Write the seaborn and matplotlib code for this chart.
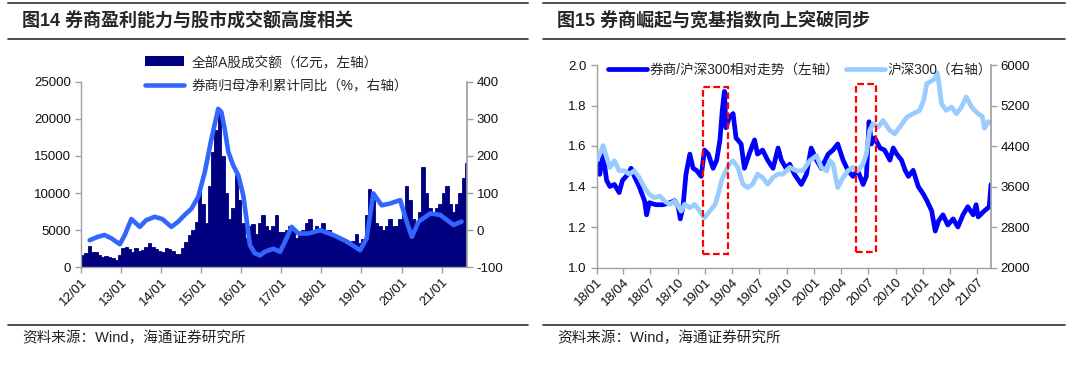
import pandas as pd
import seaborn as sns
import matplotlib.pyplot as plt
import matplotlib.dates as mdates
from matplotlib.lines import Line2D
from matplotlib.patches import Patch, Rectangle

# ---------------- 图14: turnover vs broker profit ----------------
# monthly A-share turnover (亿元), Jan 2012 .. Aug 2021
turnover_2012 = [1650, 1900, 2900, 2100, 2000, 1600, 1400, 1500, 1400, 1300, 1000, 1700]
turnover_2013 = [2600, 2700, 2500, 2000, 2600, 2200, 2300, 2800, 3300, 2700, 2500, 2200]
turnover_2014 = [2000, 2600, 2400, 2200, 1800, 1800, 2600, 3400, 4300, 5000, 6100, 10500]
turnover_2015 = [8500, 6000, 11000, 15500, 18500, 21000, 15000, 10000, 6500, 8000, 12500, 9000]
turnover_2016 = [6000, 4000, 5500, 5800, 4500, 6000, 7000, 5500, 5000, 5500, 7000, 4700]
turnover_2017 = [4800, 5000, 5500, 5000, 4000, 4500, 5000, 6000, 6500, 5000, 5500, 4800]
turnover_2018 = [6000, 5000, 5000, 4300, 4000, 3800, 3500, 3200, 3200, 3500, 4500, 3300]
turnover_2019 = [3800, 7000, 10500, 9000, 6000, 5500, 5000, 5500, 6500, 5500, 5500, 6500]
turnover_2020 = [7500, 11000, 9000, 6500, 6000, 7500, 13500, 10000, 8000, 7000, 8000, 8500]
turnover_2021 = [10000, 11000, 8500, 7500, 8500, 10000, 12000, 14000]
turnover = (turnover_2012 + turnover_2013 + turnover_2014 + turnover_2015 + turnover_2016
            + turnover_2017 + turnover_2018 + turnover_2019 + turnover_2020 + turnover_2021)
turnover_months = pd.date_range("2012-01-01", periods=len(turnover), freq="MS")

# broker net profit, cumulative YoY (%)
profit_dates = ["2012-03-20", "2012-06-01", "2012-08-03", "2012-10-04", "2012-12-20",
                "2013-02-03", "2013-04-04", "2013-06-20", "2013-08-17", "2013-11-03",
                "2014-01-11", "2014-04-04", "2014-06-05", "2014-08-03", "2014-10-04", "2014-12-05",
                "2015-02-03", "2015-04-04", "2015-06-05", "2015-07-04", "2015-08-03", "2015-09-05",
                "2015-10-19", "2015-12-05",
                "2016-01-19", "2016-02-17", "2016-03-20", "2016-05-03", "2016-06-20", "2016-08-03",
                "2016-10-19", "2016-12-20",
                "2017-02-03", "2017-04-04", "2017-06-05", "2017-09-05", "2017-12-20",
                "2018-04-19", "2018-08-17", "2018-12-20",
                "2019-02-17", "2019-04-19", "2019-07-04", "2019-09-20", "2019-12-20",
                "2020-02-17", "2020-04-04", "2020-06-05", "2020-09-20", "2020-12-20",
                "2021-03-01", "2021-04-20", "2021-07-01"]
profit_yoy = [-27, -18, -13, -22, -38,
              -13, 30, 9, 27, 36,
              30, 9, 23, 41, 58, 90,
              157, 246, 327, 318, 273, 211, 175, 148,
              94, 32, -40, -62, -68, -58, -50, -58,
              -31, 9, -9, -9, 0,
              -13, -30, -54,
              -22, 99, 67, 72, 81,
              23, -18, 23, 45, 41,
              25, 14, 23]

# ---------------- 图15: broker / HS300 ----------------
rel_dates = ["2018-01-01", "2018-01-12", "2018-01-23", "2018-02-04", "2018-02-15", "2018-03-02",
             "2018-03-18", "2018-03-29", "2018-04-16", "2018-04-27", "2018-05-08", "2018-05-24",
             "2018-06-11", "2018-06-18", "2018-06-27", "2018-07-19", "2018-08-12", "2018-09-04",
             "2018-09-20", "2018-10-02", "2018-10-09", "2018-10-18", "2018-10-28", "2018-11-10",
             "2018-11-21", "2018-12-02", "2018-12-18", "2018-12-29", "2019-01-11", "2019-01-27",
             "2019-02-08", "2019-02-19", "2019-02-27", "2019-03-06", "2019-03-11", "2019-03-22",
             "2019-04-04", "2019-04-14", "2019-05-01", "2019-05-12", "2019-05-28", "2019-06-15",
             "2019-06-25", "2019-07-12", "2019-07-29", "2019-08-16", "2019-09-02", "2019-09-13",
             "2019-09-29", "2019-10-11", "2019-10-27", "2019-11-19", "2019-12-06", "2019-12-22",
             "2020-01-09", "2020-01-25", "2020-02-17", "2020-03-04", "2020-03-20", "2020-04-07",
             "2020-04-23", "2020-05-10", "2020-05-26", "2020-06-13", "2020-06-24", "2020-07-03",
             "2020-07-11", "2020-07-22", "2020-08-09", "2020-08-24", "2020-09-11", "2020-09-22",
             "2020-10-04", "2020-10-20", "2020-11-01", "2020-11-12", "2020-11-28", "2020-12-15",
             "2021-01-02", "2021-01-13", "2021-01-29", "2021-02-10", "2021-02-21", "2021-03-08",
             "2021-03-24", "2021-04-11", "2021-04-27", "2021-05-14", "2021-05-30", "2021-06-17",
             "2021-06-27", "2021-07-04", "2021-07-25", "2021-08-10", "2021-08-16"]
rel_values = [1.53, 1.46, 1.56, 1.43, 1.40, 1.41,
              1.37, 1.43, 1.46, 1.49, 1.45, 1.40,
              1.33, 1.26, 1.32, 1.31, 1.31, 1.32,
              1.33, 1.30, 1.24, 1.30, 1.46, 1.56,
              1.49, 1.48, 1.45, 1.58, 1.56, 1.49,
              1.53, 1.63, 1.78, 1.87, 1.69, 1.74,
              1.76, 1.64, 1.61, 1.49, 1.56, 1.63,
              1.56, 1.58, 1.53, 1.49, 1.59, 1.53,
              1.49, 1.51, 1.46, 1.41, 1.46, 1.59,
              1.53, 1.49, 1.56, 1.58, 1.61, 1.53,
              1.48, 1.45, 1.48, 1.41, 1.45, 1.72,
              1.61, 1.64, 1.59, 1.58, 1.53, 1.59,
              1.56, 1.53, 1.48, 1.45, 1.48, 1.40,
              1.36, 1.33, 1.28, 1.18, 1.23, 1.26,
              1.21, 1.24, 1.20, 1.26, 1.30, 1.26,
              1.31, 1.25, 1.28, 1.30, 1.41]

hs300_dates = ["2018-01-01", "2018-01-12", "2018-01-23", "2018-02-04", "2018-02-15", "2018-03-02",
               "2018-03-18", "2018-04-05", "2018-04-21", "2018-05-08", "2018-05-24", "2018-06-11",
               "2018-06-27", "2018-07-14", "2018-08-01", "2018-08-17", "2018-09-04", "2018-09-20",
               "2018-10-02", "2018-10-12", "2018-10-23", "2018-11-10", "2018-11-26", "2018-12-13",
               "2018-12-29", "2019-01-16", "2019-02-03", "2019-02-13", "2019-02-24", "2019-03-06",
               "2019-03-22", "2019-04-04", "2019-04-20", "2019-05-07", "2019-05-23", "2019-06-09",
               "2019-06-25", "2019-07-12", "2019-07-29", "2019-08-16", "2019-09-02", "2019-09-18",
               "2019-10-11", "2019-11-03", "2019-11-24", "2019-12-17", "2020-01-09", "2020-01-25",
               "2020-02-12", "2020-02-22", "2020-03-04", "2020-03-20", "2020-04-07", "2020-04-23",
               "2020-05-10", "2020-05-26", "2020-06-13", "2020-06-24", "2020-07-05", "2020-07-16",
               "2020-08-03", "2020-08-19", "2020-09-11", "2020-09-27", "2020-10-14", "2020-11-07",
               "2020-11-28", "2020-12-20", "2021-01-02", "2021-01-13", "2021-01-24", "2021-02-10",
               "2021-02-16", "2021-02-21", "2021-03-03", "2021-03-19", "2021-04-06", "2021-04-22",
               "2021-05-09", "2021-05-25", "2021-06-12", "2021-06-22", "2021-07-04", "2021-07-18",
               "2021-07-25", "2021-08-07", "2021-08-16"]
hs300_values = [4109, 4242, 4408, 4176, 3977, 4109,
                3910, 3910, 3844, 3910, 3778, 3579,
                3446, 3380, 3413, 3313, 3247, 3313,
                3214, 3114, 3247, 3180, 3247, 3114,
                2981, 3114, 3247, 3446, 3711, 3844,
                4043, 4109, 3977, 3645, 3579, 3645,
                3844, 3778, 3645, 3778, 3844, 3844,
                3977, 3910, 3910, 4109, 4209, 3977,
                3910, 4109, 4043, 3579, 3778, 3910,
                3977, 3910, 4043, 4242, 4706, 4839,
                4772, 4905, 4706, 4640, 4772, 4971,
                5038, 5104, 5303, 5635, 5668, 5734,
                5850, 5701, 5237, 5104, 5170, 5038,
                5170, 5369, 5170, 5104, 5038, 4980,
                4750, 4880, 4850]

# highlighted breakout windows: (start, end, low, high) on the left axis
breakouts = [("2018-12-23", "2019-03-19", 1.067, 1.892),
             ("2020-05-19", "2020-07-25", 1.075, 1.905)]

NAVY = "#000080"
LINE_BLUE = "#3366FF"
DARK_BLUE = "#0000FF"
LIGHT_BLUE = "#99CCFF"
GRAY = "#A0A0A0"

sns.set_theme(style="white")
plt.rcParams["font.family"] = ["Liberation Sans", "Noto Sans CJK SC"]
plt.rcParams["axes.unicode_minus"] = False

W, H = 1080, 370
fig = plt.figure(figsize=(10.8, 3.7), dpi=100)


def fx(px):
    return px / W


def fy(py):
    return 1 - py / H


def style_axes(ax, twin):
    for side in ["top", "right", "left", "bottom"]:
        ax.spines[side].set_visible(False)
    ax.spines["bottom"].set_visible(True)
    ax.spines["left"].set_visible(True)
    for side in ["bottom", "left"]:
        ax.spines[side].set_color(GRAY)
        ax.spines[side].set_linewidth(1.0)
    twin.spines["right"].set_visible(True)
    twin.spines["right"].set_color(GRAY)
    for side in ["top", "left", "bottom"]:
        twin.spines[side].set_visible(False)
    ax.tick_params(axis="y", left=True, direction="out", length=4, width=1, color=GRAY,
                   labelsize=9.5, labelcolor="#111111", pad=3)
    ax.tick_params(axis="x", bottom=True, direction="out", length=4, width=1, color=GRAY,
                   labelsize=9.5, labelcolor="#111111", pad=2)
    twin.tick_params(axis="y", right=True, direction="out", length=4, width=1, color=GRAY,
                     labelsize=9.5, labelcolor="#111111", pad=3)
    for lab in ax.get_xticklabels():
        lab.set_rotation(45)
        lab.set_ha("right")
        lab.set_va("top")
        lab.set_rotation_mode("anchor")
    ax.grid(False)
    twin.grid(False)
    ax.set_xlabel("")
    ax.set_ylabel("")
    twin.set_ylabel("")


# ---------- left panel ----------
ax1 = fig.add_axes([fx(81), fy(267.3), fx(467 - 81), (267.3 - 81.7) / H])
ax2 = ax1.twinx()
ax1.bar(turnover_months, turnover, width=32, align="edge", color=NAVY,
        edgecolor=NAVY, linewidth=0.6)
sns.lineplot(x=pd.to_datetime(profit_dates), y=profit_yoy, ax=ax2, color=LINE_BLUE,
             linewidth=3.3, solid_joinstyle="round", solid_capstyle="round")
ax1.set_ylim(0, 25000)
ax1.set_yticks(range(0, 25001, 5000))
ax2.set_ylim(-100, 400)
ax2.set_yticks(range(-100, 401, 100))
ax1.set_xlim(pd.Timestamp("2012-01-01"), pd.Timestamp("2021-08-20"))
ax1.xaxis.set_major_locator(mdates.YearLocator())
ax1.xaxis.set_major_formatter(mdates.DateFormatter("%y/%m"))
style_axes(ax1, ax2)

left_handles = [Patch(facecolor=NAVY, edgecolor="none"),
                Line2D([], [], color=LINE_BLUE, linewidth=3.3)]
fig.legend(left_handles, ["全部A股成交额（亿元，左轴）", "券商归母净利累计同比（%，右轴）"],
           loc="center left", bbox_to_anchor=(fx(145), fy(74)), frameon=False,
           fontsize=9.8, handlelength=2.9, handletextpad=0.5, labelspacing=0.75,
           borderpad=0, borderaxespad=0)

# ---------- right panel ----------
ax3 = fig.add_axes([fx(596.5), fy(267.5), fx(991 - 596.5), (267.5 - 65) / H])
ax4 = ax3.twinx()
sns.lineplot(x=pd.to_datetime(rel_dates), y=rel_values, ax=ax3, color=DARK_BLUE,
             linewidth=3.4, solid_joinstyle="round")
sns.lineplot(x=pd.to_datetime(hs300_dates), y=hs300_values, ax=ax4, color=LIGHT_BLUE,
             linewidth=3.4, solid_joinstyle="round")
ax3.set_ylim(1.0, 2.0)
ax3.set_yticks([1.0, 1.2, 1.4, 1.6, 1.8, 2.0])
ax3.yaxis.set_major_formatter(plt.FuncFormatter(lambda v, p: f"{v:.1f}"))
ax4.set_ylim(2000, 6000)
ax4.set_yticks(range(2000, 6001, 800))
ax3.set_xlim(pd.Timestamp("2018-01-01"), pd.Timestamp("2021-08-16"))
ax3.xaxis.set_major_locator(mdates.MonthLocator(bymonth=[1, 4, 7, 10]))
ax3.xaxis.set_major_formatter(mdates.DateFormatter("%y/%m"))
style_axes(ax3, ax4)

for start, end, low, high in breakouts:
    x0 = mdates.date2num(pd.Timestamp(start))
    x1 = mdates.date2num(pd.Timestamp(end))
    ax4.add_patch(Rectangle((x0, low), x1 - x0, high - low, transform=ax3.transData,
                            fill=False, edgecolor="#FF0000", linewidth=1.6,
                            linestyle=(0, (3, 1.5)), zorder=5))

right_handles = [Line2D([], [], color=DARK_BLUE, linewidth=3.4),
                 Line2D([], [], color=LIGHT_BLUE, linewidth=3.4)]
fig.legend(right_handles, ["券商/沪深300相对走势（左轴）", "沪深300（右轴）"],
           loc="center left", bbox_to_anchor=(fx(608), fy(69.5)), frameon=False, ncol=2,
           fontsize=9.8, handlelength=2.9, handletextpad=0.15, columnspacing=0.45,
           borderpad=0, borderaxespad=0)

# ---------- titles, rules and sources ----------
titles = [(8, 528, 22, "图14 券商盈利能力与股市成交额高度相关"),
          (543, 1065, 557, "图15 券商崛起与宽基指数向上突破同步")]
for x_start, x_end, x_text, title in titles:
    fig.add_artist(Line2D([fx(x_start), fx(x_end)], [fy(3.4)] * 2, color="#505050", linewidth=1.4))
    fig.add_artist(Line2D([fx(x_start), fx(x_end)], [fy(38.6)] * 2, color="#303030", linewidth=1.2))
    fig.add_artist(Line2D([fx(x_start), fx(x_end)], [fy(325)] * 2, color="#303030", linewidth=1.2))
    fig.text(fx(x_text), fy(21), title, fontsize=13, fontweight="bold", va="center", ha="left")
    fig.text(fx(x_text), fy(338), "资料来源：Wind，海通证券研究所", fontsize=10.5,
             va="center", ha="left", color="#222222")

fig.savefig("out.png", dpi=100)
